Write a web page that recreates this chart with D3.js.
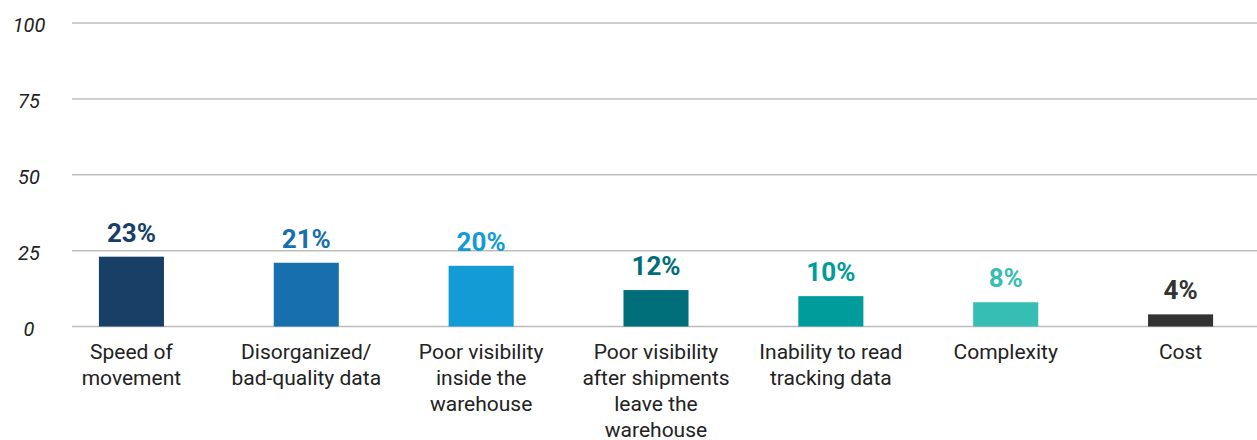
<!DOCTYPE html>
<html>
<head>
<meta charset="utf-8">
<script src="https://cdn.jsdelivr.net/npm/d3@7"></script>
<style>
  body { margin: 0; background: #fff; }
  text { font-family: Roboto, "Open Sans", sans-serif; }
</style>
</head>
<body>
<div class="graph-container"></div>
<script>
// chart data
var categories = [
  ['Speed of', 'movement'],
  ['Disorganized/', 'bad-quality data'],
  ['Poor visibility', 'inside the', 'warehouse'],
  ['Poor visibility', 'after shipments', 'leave the', 'warehouse'],
  ['Inability to read', 'tracking data'],
  ['Complexity'],
  ['Cost']
];
var values = [23, 21, 20, 12, 10, 8, 4];
var barColors = ['#183f66', '#176fad', '#139bd6', '#006e78', '#009b9b', '#37beb4', '#333333'];
var yTicks = [0, 25, 50, 75, 100];

var svgWidth = 1257;
var svgHeight = 440;
var gridLeft = 72;

var svg = d3.select('.graph-container').append('svg')
  .attr('width', svgWidth)
  .attr('height', svgHeight);

var xScale = d3.scaleBand()
  .domain(d3.range(values.length))
  .range([44, 1268])
  .paddingInner(0.628)
  .paddingOuter(0.314);

var yScale = d3.scaleLinear()
  .domain([0, 100])
  .range([326.5, 23]);

// gridlines
svg.selectAll('line.grid')
  .data(yTicks)
  .enter()
  .append('line')
  .attr('class', 'grid')
  .attr('x1', gridLeft)
  .attr('x2', svgWidth)
  .attr('y1', function(d) { return yScale(d); })
  .attr('y2', function(d) { return yScale(d); })
  .attr('stroke', '#bdbdbd')
  .attr('stroke-width', 1.5);

// y tick labels
svg.selectAll('text.ytick')
  .data(yTicks)
  .enter()
  .append('text')
  .attr('class', 'ytick')
  .attr('x', 29)
  .attr('y', function(d) { return yScale(d) + 2; })
  .attr('dy', '0.35em')
  .style('text-anchor', 'middle')
  .style('font-style', 'italic')
  .style('font-size', '20px')
  .attr('fill', '#222')
  .text(function(d) { return d; });

// bars
svg.selectAll('rect.bar')
  .data(values)
  .enter()
  .append('rect')
  .attr('class', 'bar')
  .attr('x', function(d, i) { return xScale(i); })
  .attr('y', function(d) { return yScale(d); })
  .attr('width', xScale.bandwidth())
  .attr('height', function(d) { return yScale(0) - yScale(d); })
  .attr('fill', function(d, i) { return barColors[i]; });

// value labels
svg.selectAll('text.value')
  .data(values)
  .enter()
  .append('text')
  .attr('class', 'value')
  .attr('x', function(d, i) { return xScale(i) + xScale.bandwidth() / 2; })
  .attr('y', function(d) { return yScale(d) - 15; })
  .style('text-anchor', 'middle')
  .style('font-size', '26px')
  .style('font-weight', 'bold')
  .attr('fill', function(d, i) { return barColors[i]; })
  .text(function(d) { return d + '%'; });

// category labels
var catLabels = svg.selectAll('text.cat')
  .data(categories)
  .enter()
  .append('text')
  .attr('class', 'cat')
  .attr('x', function(d, i) { return xScale(i) + xScale.bandwidth() / 2; })
  .attr('y', 359)
  .style('text-anchor', 'middle')
  .style('font-size', '21px')
  .attr('fill', '#222');

catLabels.selectAll('tspan')
  .data(function(d, i) { return d.map(function(line) { return { line: line, i: i }; }); })
  .enter()
  .append('tspan')
  .attr('x', function(d) { return xScale(d.i) + xScale.bandwidth() / 2; })
  .attr('dy', function(d, j) { return j === 0 ? 0 : 26; })
  .text(function(d) { return d.line; });
</script>
</body>
</html>
